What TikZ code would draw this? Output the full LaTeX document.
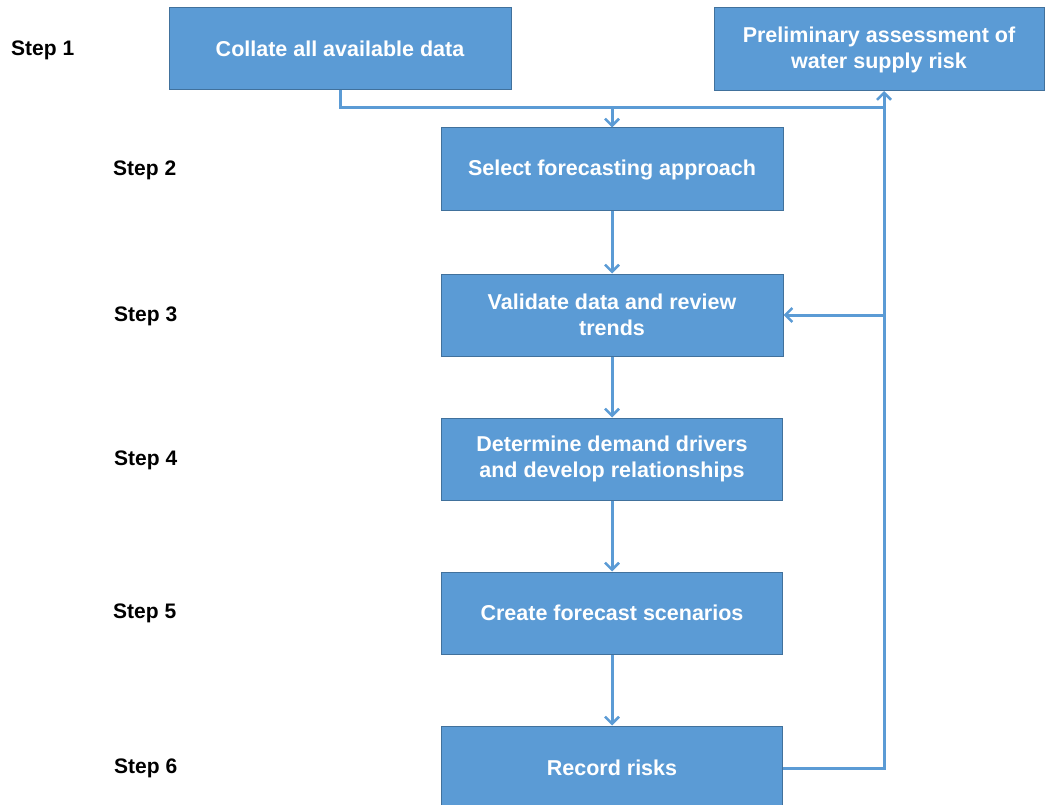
\documentclass[tikz,border=0pt]{standalone}
\usepackage{fontspec}
\setmainfont{Liberation Sans}
\usetikzlibrary{arrows.meta}
\definecolor{boxfill}{HTML}{5B9BD5}
\definecolor{boxline}{HTML}{41719C}
\definecolor{conn}{HTML}{5B9BD5}
\begin{document}
\begin{tikzpicture}[x=1pt,y=-1pt,
  box/.style={draw=boxline,line width=1pt,fill=boxfill,text=white,font=\bfseries\fontsize{21.5}{26}\selectfont,align=center,inner sep=0pt},
  steplabel/.style={font=\bfseries\fontsize{21}{26}\selectfont,anchor=west,inner sep=0pt},
  conn/.style={draw=conn,line width=3pt},
  arr/.style={conn,-{Straight Barb[length=7pt,width=14pt,line width=2.5pt]}}]
\useasboundingbox (0,0) rectangle (1049,805);
\node[box,minimum width=342pt,minimum height=82pt] (b1) at (340,49) {Collate all available data};
\node[box,minimum width=330pt,minimum height=83pt] (pre) at (879,49.5) {Preliminary assessment of\\water supply risk};
\node[box,minimum width=342pt,minimum height=83pt] (b2) at (612,169.5) {Select forecasting approach};
\node[box,minimum width=342pt,minimum height=82pt] (b3) at (612,315) {Validate data and review\\trends};
\node[box,minimum width=341pt,minimum height=82pt] (b4) at (612,459) {Determine demand drivers\\and develop relationships};
\node[box,minimum width=341pt,minimum height=82pt] (b5) at (612,613) {Create forecast scenarios};
\node[box,minimum width=341pt,minimum height=84pt] (b6) at (612,768) {Record risks};
\node[steplabel] (s1) at (11,50) {Step 1};
\node[steplabel] (s2) at (113,170) {Step 2};
\node[steplabel] (s3) at (114,316) {Step 3};
\node[steplabel] (s4) at (114,460) {Step 4};
\node[steplabel] (s5) at (113,613) {Step 5};
\node[steplabel] (s6) at (114,768) {Step 6};
\coordinate (j1) at (884,108);
\coordinate (j2) at (612,108);
\coordinate (j3) at (884,315);
\coordinate (pb) at (884,91);
\draw[conn] (b1.south) |- (j1);
\draw[arr] (j2) -- (b2.north);
\draw[arr] (b2.south) -- (b3.north);
\draw[arr] (b3.south) -- (b4.north);
\draw[arr] (b4.south) -- (b5.north);
\draw[arr] (b5.south) -- (b6.north);
\draw[arr] (b6.east) -| (pb);
\draw[arr] (j3) -- (b3.east);
\end{tikzpicture}
\end{document}
